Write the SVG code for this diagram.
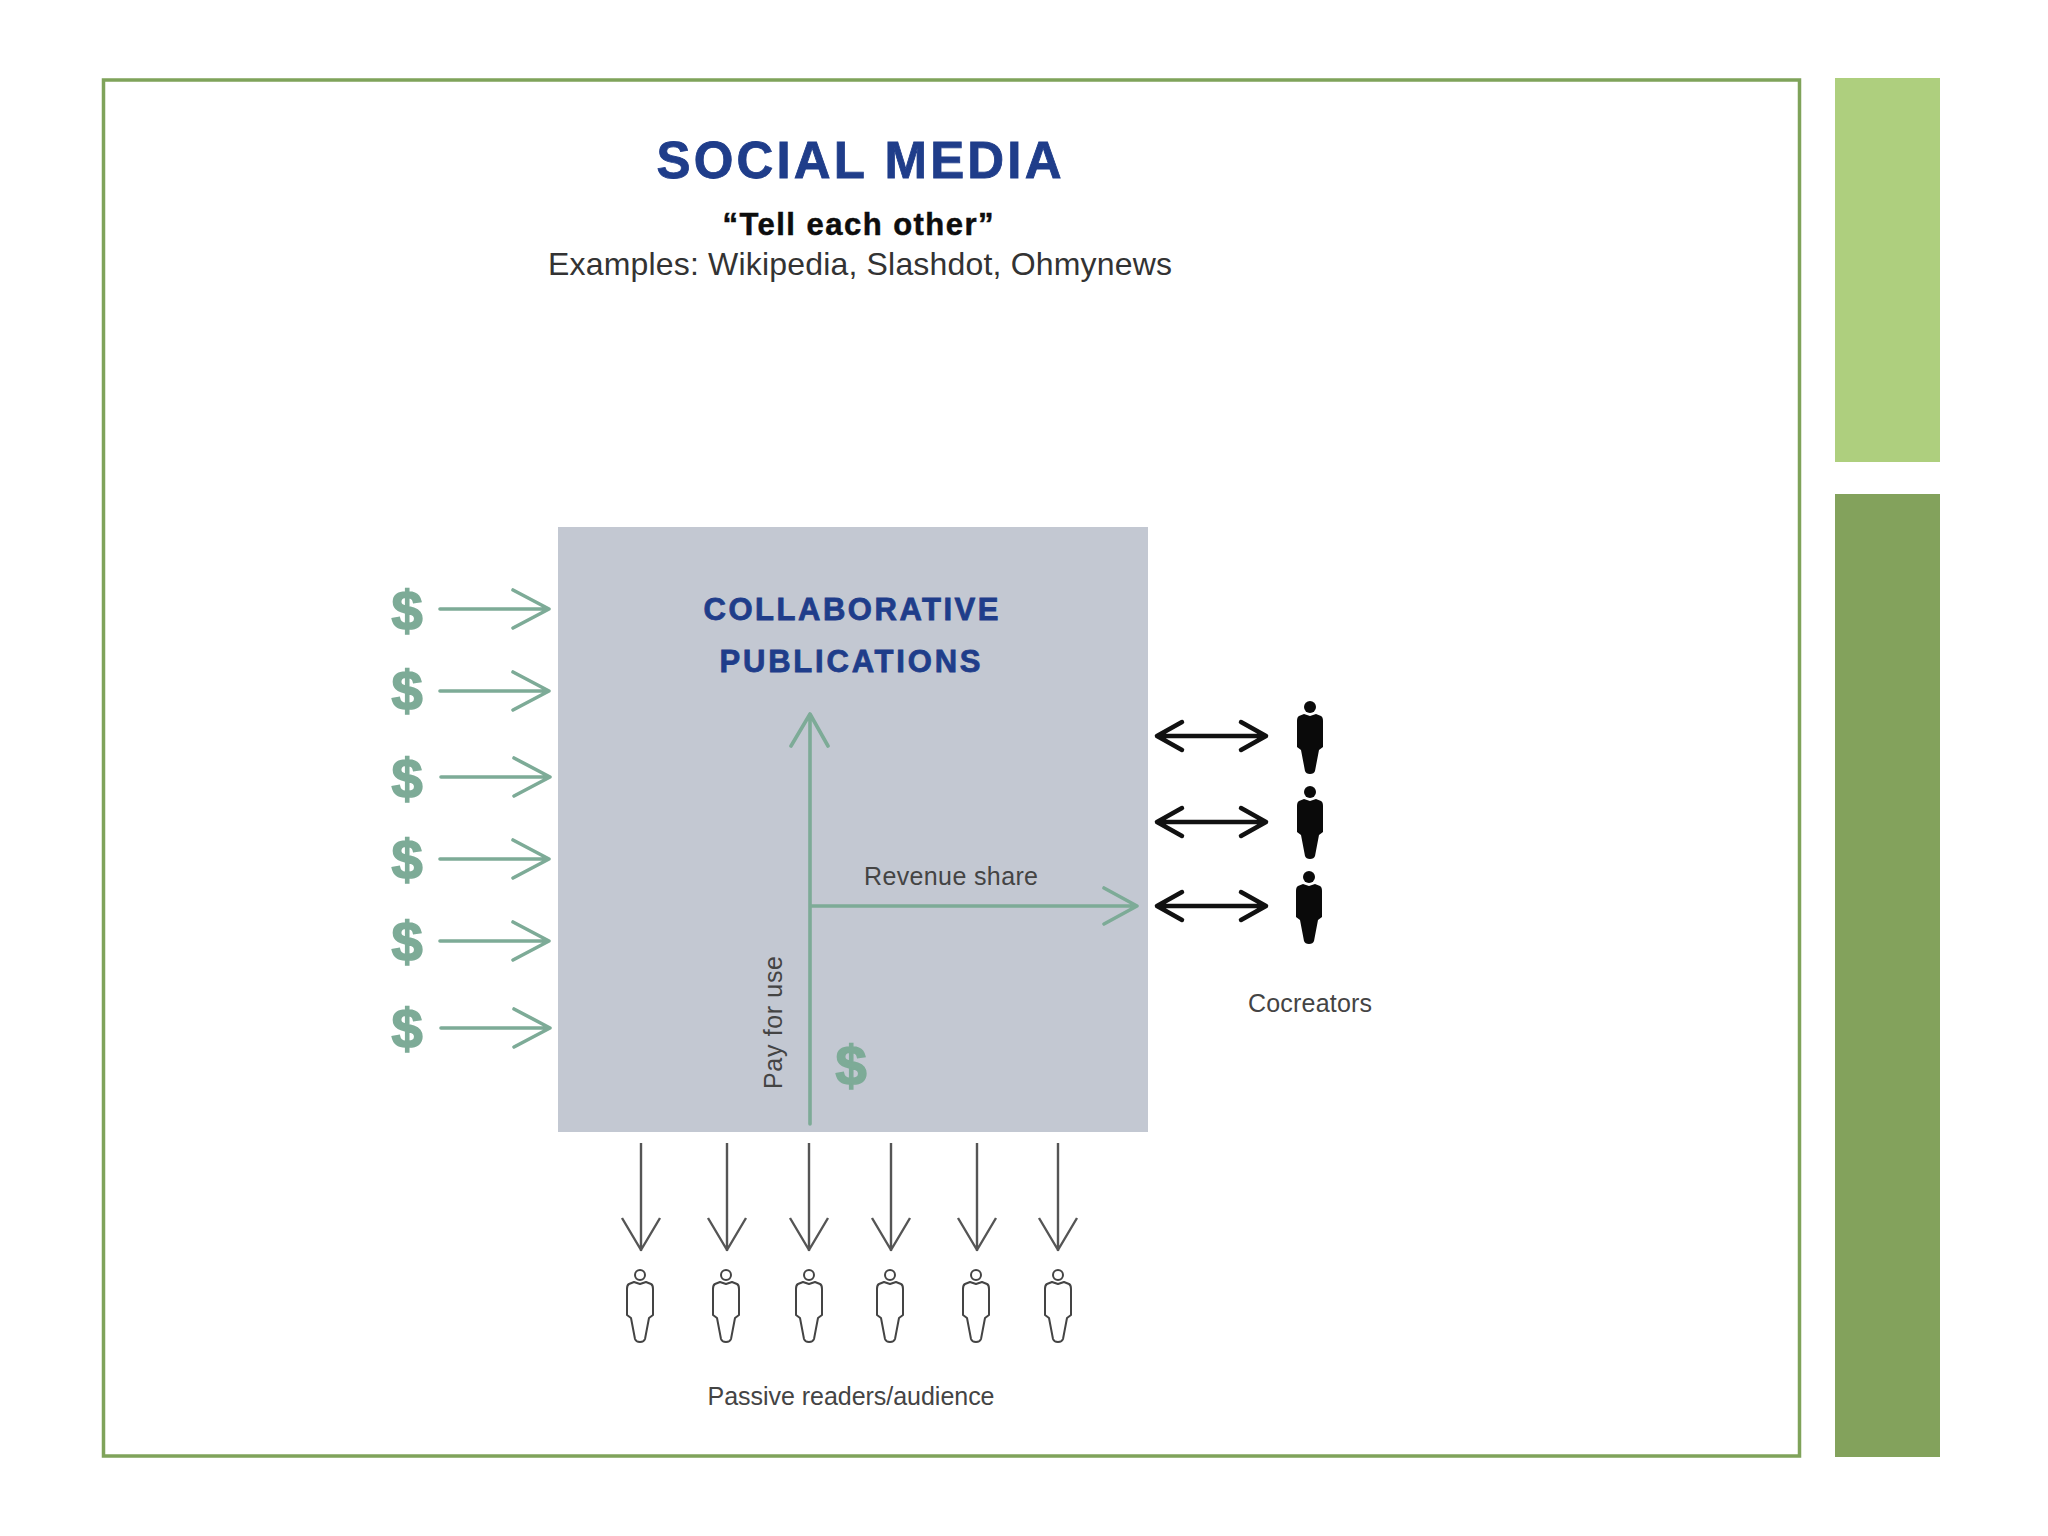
<svg xmlns="http://www.w3.org/2000/svg" width="2048" height="1536" viewBox="0 0 2048 1536">
<style>
text{font-family:"Liberation Sans",Arial,sans-serif}
.lab{font-size:25px;fill:#444}
.blue{font-weight:bold;fill:#1f3d8a;stroke:#1f3d8a;stroke-width:.8}
.dol{font-weight:bold;font-size:56px;fill:#7dab97;stroke:#7dab97;stroke-width:1.6;text-anchor:middle}
.g{fill:none;stroke:#7dab97;stroke-width:3.6;stroke-linecap:round;stroke-linejoin:round}
.k{fill:none;stroke:#111;stroke-width:4.5;stroke-linecap:round;stroke-linejoin:round}
.d{fill:none;stroke:#555;stroke-width:2.4;stroke-linejoin:round}
.w{fill:#fff;stroke:#444;stroke-width:2;stroke-linejoin:round}
</style>
<defs>
<g id="gr"><path class="g" d="M0 0H109M73 -19L109 0L73 19"/></g>
<g id="bi"><path class="k" d="M2 0H111M27 -14L2 0L27 14M86 -14L111 0L86 14"/></g>
<g id="dn"><path class="d" d="M0 0V108M-19 75L0 107L19 75"/></g>
<path id="body" d="M-6 7L0 9L6 7L11 9Q13 10 13 14V40L9 43L5 64Q4 67 0 67Q-4 67 -5 64L-9 43L-13 40V14Q-13 10 -11 9Z"/>
<g id="pb"><circle cx="0" cy="0" r="6" fill="#0a0a0a"/><use href="#body" fill="#0a0a0a"/></g>
<g id="pw"><circle class="w" cx="0" cy="0" r="5" /><use href="#body" class="w"/></g>
</defs>
<rect width="2048" height="1536" fill="#fff"/>
<g id="frame"><rect x="103.500" y="80" width="1696" height="1376" fill="#fff" stroke="#7fa35a" stroke-width="3.500"/></g>
<g id="bars"><rect x="1835" y="78" width="105" height="384" fill="#aecf7e"/><rect x="1835" y="494" width="105" height="963" fill="#83a25c"/></g>
<g id="titles">
<text class="blue" x="859" y="178" font-size="51" text-anchor="middle" textLength="405" lengthAdjust="spacing">SOCIAL MEDIA</text>
<text x="858" y="235" font-size="31" font-weight="bold" fill="#0d0d0d" stroke="#0d0d0d" stroke-width=".5" text-anchor="middle" textLength="271">“Tell each other”</text>
<text x="860" y="275" font-size="32" fill="#333" text-anchor="middle" textLength="624">Examples: Wikipedia, Slashdot, Ohmynews</text>
</g>
<g id="publications">
<rect x="558" y="527" width="590" height="605" fill="#c3c8d2"/>
<text class="blue" x="851" y="620" font-size="31" text-anchor="middle" textLength="295">COLLABORATIVE</text>
<text class="blue" x="850" y="672" font-size="31" text-anchor="middle" textLength="261">PUBLICATIONS</text>
<text class="lab" x="951" y="885" text-anchor="middle" textLength="174">Revenue share</text>
<text class="lab" transform="translate(782 1089) rotate(-90)" textLength="133">Pay for use</text>
<text class="dol" x="851" y="1085">$</text>
</g>
<g id="payers">
<text class="dol" x="407" y="630">$</text>
<text class="dol" x="407" y="710">$</text>
<text class="dol" x="407" y="798">$</text>
<text class="dol" x="407" y="879">$</text>
<text class="dol" x="407" y="961">$</text>
<text class="dol" x="407" y="1048">$</text>
</g>
<g id="connectors">
<use href="#gr" x="440" y="609"/><use href="#gr" x="440" y="691"/><use href="#gr" x="441" y="777"/><use href="#gr" x="440" y="859"/><use href="#gr" x="440" y="941"/><use href="#gr" x="441" y="1028"/>
<path class="g" d="M810 1124V714M791 746L810 714L828 746"/>
<path class="g" d="M811 906H1137M1104 888L1137 906L1104 924"/>
<use href="#bi" x="1155" y="736"/><use href="#bi" x="1155" y="822"/><use href="#bi" x="1155" y="906"/>
<use href="#dn" x="641" y="1143"/><use href="#dn" x="727" y="1143"/><use href="#dn" x="809" y="1143"/><use href="#dn" x="891" y="1143"/><use href="#dn" x="977" y="1143"/><use href="#dn" x="1058" y="1143"/>
</g>
<g id="cocreators">
<use href="#pb" x="1310" y="707"/><use href="#pb" x="1310" y="792"/><use href="#pb" x="1309" y="877"/>
<text class="lab" x="1310" y="1012" text-anchor="middle" textLength="124">Cocreators</text>
</g>
<g id="readers">
<use href="#pw" x="640" y="1275"/><use href="#pw" x="726" y="1275"/><use href="#pw" x="809" y="1275"/><use href="#pw" x="890" y="1275"/><use href="#pw" x="976" y="1275"/><use href="#pw" x="1058" y="1275"/>
<text class="lab" x="851" y="1405" text-anchor="middle" textLength="287">Passive readers/audience</text>
</g>
</svg>
